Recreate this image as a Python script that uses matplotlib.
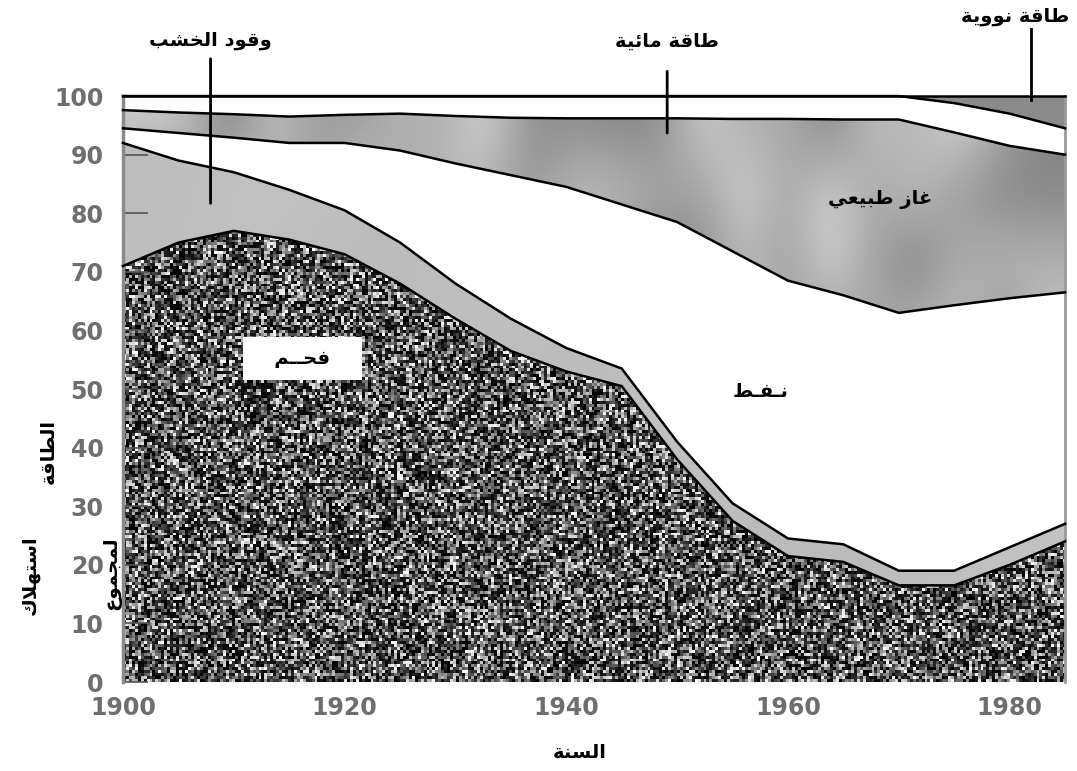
import numpy as np
import matplotlib
matplotlib.use("Agg")
from matplotlib import pyplot as plt

# Share of total energy consumption (%)
years = [1900, 1905, 1910, 1915, 1920, 1925, 1930, 1935, 1940, 1945,
         1950, 1955, 1960, 1965, 1970, 1975, 1980, 1985]
coal = [71, 75, 77, 75.5, 73, 68, 62, 56.5, 53, 50.5,
        38, 27.5, 21.5, 20.5, 16.5, 16.5, 20, 24]
wood = [21, 14, 10, 8.5, 7.5, 7, 6, 5.5, 4, 3,
        3, 3, 3, 3, 2.5, 2.5, 3, 3]
oil = [2.5, 4.7, 5.9, 8, 11.5, 15.7, 20.5, 24.5, 27.5, 28,
       37.5, 43, 44, 42.5, 44, 45.3, 42.5, 39.5]
gas = [3.1, 3.5, 4.0, 4.5, 4.8, 6.3, 8.1, 9.8, 11.7, 14.7,
       17.7, 22.6, 27.6, 30, 33, 29.5, 26, 23.5]
hydro = [2.4, 2.8, 3.1, 3.5, 3.2, 3.0, 3.4, 3.7, 3.8, 3.8,
         3.8, 3.9, 3.9, 4.0, 4.0, 5.0, 5.5, 4.5]
nuclear = [0, 0, 0, 0, 0, 0, 0, 0, 0, 0,
           0, 0, 0, 0, 0, 1.2, 3, 5.5]

yticks = list(range(0, 101, 10))
xticks = [1900, 1920, 1940, 1960, 1980]

# --- minimal Arabic shaping (matplotlib has no shaping / bidi) ---
FORMS = {
    'ا': ('\uFE8D', '\uFE8E', None, None),
    'ب': ('\uFE8F', '\uFE90', '\uFE91', '\uFE92'),
    'ة': ('\uFE93', '\uFE94', None, None),
    'ت': ('\uFE95', '\uFE96', '\uFE97', '\uFE98'),
    'ج': ('\uFE9D', '\uFE9E', '\uFE9F', '\uFEA0'),
    'ح': ('\uFEA1', '\uFEA2', '\uFEA3', '\uFEA4'),
    'خ': ('\uFEA5', '\uFEA6', '\uFEA7', '\uFEA8'),
    'د': ('\uFEA9', '\uFEAA', None, None),
    'ز': ('\uFEAF', '\uFEB0', None, None),
    'س': ('\uFEB1', '\uFEB2', '\uFEB3', '\uFEB4'),
    'ش': ('\uFEB5', '\uFEB6', '\uFEB7', '\uFEB8'),
    'ط': ('\uFEC1', '\uFEC2', '\uFEC3', '\uFEC4'),
    'ع': ('\uFEC9', '\uFECA', '\uFECB', '\uFECC'),
    'غ': ('\uFECD', '\uFECE', '\uFECF', '\uFED0'),
    'ف': ('\uFED1', '\uFED2', '\uFED3', '\uFED4'),
    'ق': ('\uFED5', '\uFED6', '\uFED7', '\uFED8'),
    'ك': ('\uFED9', '\uFEDA', '\uFEDB', '\uFEDC'),
    'ل': ('\uFEDD', '\uFEDE', '\uFEDF', '\uFEE0'),
    'م': ('\uFEE1', '\uFEE2', '\uFEE3', '\uFEE4'),
    'ن': ('\uFEE5', '\uFEE6', '\uFEE7', '\uFEE8'),
    'ه': ('\uFEE9', '\uFEEA', '\uFEEB', '\uFEEC'),
    'و': ('\uFEED', '\uFEEE', None, None),
    'ي': ('\uFEF1', '\uFEF2', '\uFEF3', '\uFEF4'),
    'ئ': ('\uFE89', '\uFE8A', '\uFE8B', '\uFE8C'),
}
TATWEEL = 'ـ'


def joins_next(c):
    return c == TATWEEL or (c in FORMS and FORMS[c][2] is not None)


def joins_prev(c):
    return c == TATWEEL or c in FORMS


def ar(text):
    out = []
    i = 0
    while i < len(text):
        c = text[i]
        prev = text[i - 1] if i > 0 else ' '
        nxt = text[i + 1] if i + 1 < len(text) else ' '
        if c == 'ل' and nxt == 'ا':
            out.append('\uFEFC' if joins_next(prev) else '\uFEFB')
            i += 2
            continue
        if c in FORMS:
            iso, fin, ini, med = FORMS[c]
            a = joins_next(prev)
            b = ini is not None and joins_prev(nxt)
            if a and b:
                out.append(med)
            elif a:
                out.append(fin)
            elif b:
                out.append(ini)
            else:
                out.append(iso)
        else:
            out.append(c)
        i += 1
    return ''.join(reversed(out))


fig = plt.figure(figsize=(10.77, 7.71), dpi=100)
ax = fig.add_axes([0.1142, 0.1154, 0.8747, 0.760])

x = np.array(years)
polys = ax.stackplot(x, coal, wood, oil, gas, hydro, nuclear,
                     colors=['#3a3a3a', '#bdbdbd', 'white', '#9a9a9a',
                             'white', '#8a8a8a'], lw=0, zorder=1)

ax.set_xlim(1900, 1985)
ax.set_ylim(0, 100)

# textures (purely decorative)
rng = np.random.default_rng(3)
ext = (1900, 1985, 0, 100)
coal_tex = rng.random((200, 320)) ** 1.8
im = ax.imshow(coal_tex, cmap='gray', vmin=0, vmax=1, extent=ext,
               aspect='auto', interpolation='nearest', zorder=1.5)
im.set_clip_path(polys[0].get_paths()[0], ax.transData)

gas_tex = 0.48 + 0.36 * rng.random((9, 22))
im2 = ax.imshow(gas_tex, cmap='gray', vmin=0, vmax=1, extent=ext,
                aspect='auto', interpolation='bicubic', zorder=1.5)
im2.set_clip_path(polys[3].get_paths()[0], ax.transData)

wood_tex = 0.71 + 0.06 * rng.random((5, 12))
im3 = ax.imshow(wood_tex, cmap='gray', vmin=0, vmax=1, extent=ext,
                aspect='auto', interpolation='bicubic', zorder=1.5)
im3.set_clip_path(polys[1].get_paths()[0], ax.transData)

# boundary lines
tops = np.cumsum([coal, wood, oil, gas, hydro, nuclear], axis=0)
for t in tops:
    ax.plot(x, t, color='black', lw=1.8, zorder=3, clip_on=False)

ax.set_xticks(xticks)
ax.set_yticks(yticks)
tick_font = dict(fontsize=17, fontweight='bold', color='#6e6e6e')
ax.set_xticklabels([str(v) for v in xticks], **tick_font)
ax.set_yticklabels([str(v) for v in yticks], **tick_font)
ax.tick_params(axis='x', length=0, pad=10)
ax.tick_params(axis='y', direction='in', length=18, width=1.2,
               color='#555555', pad=14)
for s in ['top', 'bottom']:
    ax.spines[s].set_visible(False)
ax.spines['left'].set_color('#8a8a8a')
ax.spines['left'].set_linewidth(2.5)
ax.spines['right'].set_color('#9a9a9a')
ax.spines['right'].set_linewidth(2)

afont = dict(fontsize=14, fontweight='bold', color='black',
             family='DejaVu Sans', ha='center', va='center')
line = dict(arrowstyle='-', lw=2, color='black', shrinkA=4, shrinkB=0)

# callout labels above the plot, vertical leader lines
ax.annotate(ar('وقود الخشب'), xy=(1907.9, 81.7), xytext=(1907.9, 109.4),
            arrowprops=line, annotation_clip=False, **afont)
ax.annotate(ar('طاقة مائية'), xy=(1949.1, 93.7), xytext=(1949.1, 109.4),
            arrowprops=dict(line, shrinkA=13), annotation_clip=False, **afont)
ax.text(1985.4, 113.6, ar('طاقة نووية'), clip_on=False,
        **dict(afont, ha='right'))
ax.plot([1981.9, 1981.9], [111.4, 99.4], color='black', lw=2,
        clip_on=False, zorder=4)

ax.text(1968.3, 82.3, ar('غاز طبيعي'), zorder=4, **afont)
ax.text(1957.5, 49.5, ar('نـفـط'), zorder=4, **afont)
ax.text(1916.2, 55.2, '   ' + ar('فحــم') + '   ', zorder=4,
        bbox=dict(boxstyle='square,pad=0.6', fc='white', ec='none'), **afont)

fig.text(0.5385, 0.0246, ar('السنة'), **afont)
fig.text(0.028, 0.254, ar('استهلاك'), rotation=90, **afont)
fig.text(0.104, 0.257, ar('لمجموع'), rotation=90, **afont)
fig.text(0.0446, 0.415, ar('الطاقة'), rotation=90, **afont)

fig.savefig('out.png', dpi=100)
